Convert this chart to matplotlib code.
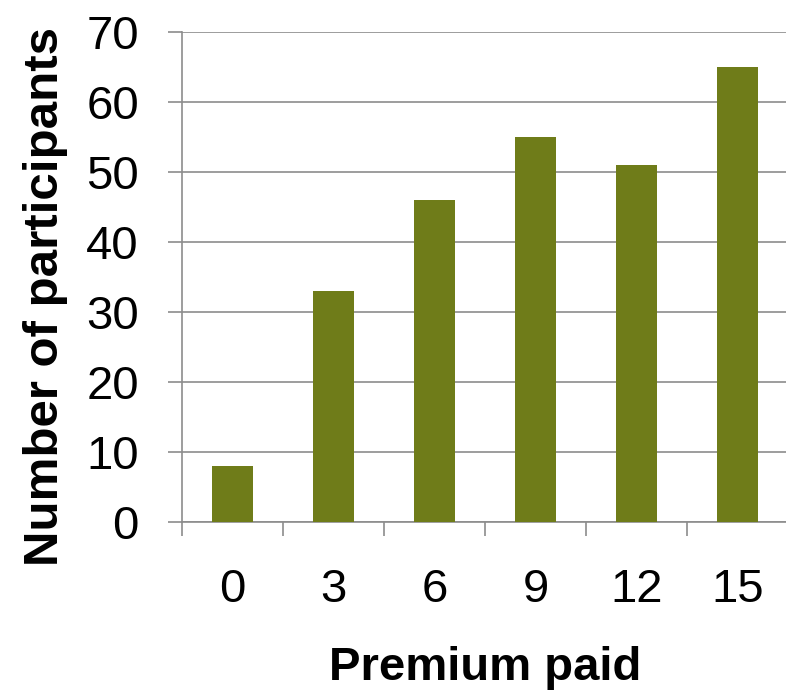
import numpy as np
import matplotlib
matplotlib.use("Agg")
from matplotlib import pyplot as plt
from matplotlib.ticker import FixedLocator

premium = ["0", "3", "6", "9", "12", "15"]
participants = [8, 33, 46, 55, 51, 65]

plt.rcParams['font.family'] = ['Liberation Sans', 'DejaVu Sans']
grey = "#8c8c8c"
olive = "#6f7c19"

fig = plt.figure(figsize=(7.86, 6.91), dpi=100)
ax = fig.add_axes([182/786, 169/691, 606/786, 490/691])

x = np.arange(len(premium))
ax.bar(x, participants, width=0.4, color=olive, zorder=3)

ax.set_xlim(-0.5, len(premium) - 0.5)
ax.set_ylim(0, 70)
ax.set_yticks(range(0, 71, 10))
ax.yaxis.grid(True, color=grey, linewidth=1.2, zorder=0)

# labels under the bar centres, tick marks between categories
ax.set_xticks(x)
ax.set_xticklabels(premium)
ax.xaxis.set_minor_locator(FixedLocator(np.arange(-0.5, len(premium), 1.0)))
ax.tick_params(axis='x', which='major', length=0, pad=33, labelsize=34)
ax.tick_params(axis='x', which='minor', length=10, width=1.2, color=grey)
ax.tick_params(axis='y', length=10, width=1.2, color=grey, pad=21, labelsize=34)

for s in ['top', 'right']:
    ax.spines[s].set_visible(False)
for s in ['left', 'bottom']:
    ax.spines[s].set_color(grey)
    ax.spines[s].set_linewidth(1.2)

fig.text(485/786, 1 - 680/691, "Premium paid", fontsize=34, fontweight='bold',
         ha='center', va='baseline')
fig.text(58/786, 1 - 297/691, "Number of participants", fontsize=35.5, fontweight='bold',
         ha='center', va='baseline', rotation=90, rotation_mode='anchor')

fig.savefig("out.png", dpi=100)
